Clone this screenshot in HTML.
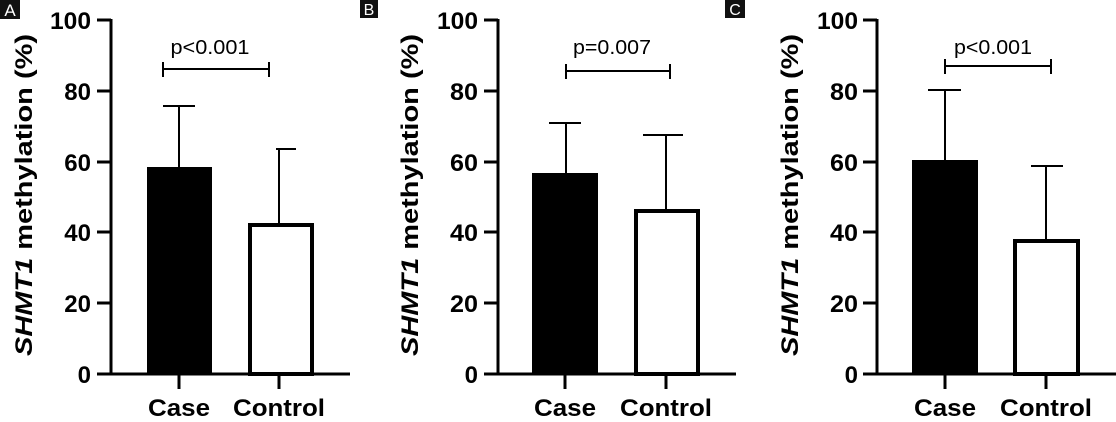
<!DOCTYPE html>
<html><head><style>body{margin:0;background:#fff}svg{display:block}</style></head>
<body>
<svg width="1116" height="422" viewBox="0 0 1116 422" xmlns="http://www.w3.org/2000/svg" font-family="Liberation Sans, Arial, sans-serif">
<!-- Panel A -->
<g>
<rect x="0" y="0" width="20" height="19" fill="#111"/><text x="10" y="16" fill="#fff" font-size="17" text-anchor="middle">A</text>
<text transform="translate(32,195) rotate(-90)" font-size="24" font-weight="bold" text-anchor="middle" textLength="322" lengthAdjust="spacingAndGlyphs"><tspan font-style="italic">SHMT1</tspan> methylation (%)</text>
<g font-size="24" font-weight="bold" text-anchor="end">
<text x="91" y="29" textLength="41" lengthAdjust="spacingAndGlyphs">100</text><text x="91" y="100">80</text><text x="91" y="171">60</text><text x="91" y="241">40</text><text x="91" y="312">20</text><text x="91" y="383">0</text>
</g>
<g stroke="#000" stroke-width="3" fill="none">
<path d="M111,19V374H350M97,20H111M97,91H111M97,162H111M97,232H111M97,303H111M97,374H111M179,374V389M279,374V389"/>
</g>
<rect x="147" y="167" width="65" height="207" fill="#000"/>
<rect x="250" y="225" width="62" height="149" fill="#fff" stroke="#000" stroke-width="4"/>
<g stroke="#000" stroke-width="2"><path d="M179,167V106M163,106H195M279,223V149M276,149H296M163,69H269M163,62V77M269,62V77"/></g>
<text x="210" y="54" font-size="20" text-anchor="middle" textLength="79" lengthAdjust="spacingAndGlyphs">p&lt;0.001</text>
<g font-size="24" font-weight="bold" text-anchor="middle"><text x="179" y="416" textLength="62" lengthAdjust="spacingAndGlyphs">Case</text><text x="279" y="416" textLength="92" lengthAdjust="spacingAndGlyphs">Control</text></g>
</g>
<!-- Panel B -->
<g>
<rect x="360" y="0" width="18" height="18" fill="#111"/><text x="369" y="15" fill="#fff" font-size="16" text-anchor="middle">B</text>
<text transform="translate(418,195) rotate(-90)" font-size="24" font-weight="bold" text-anchor="middle" textLength="322" lengthAdjust="spacingAndGlyphs"><tspan font-style="italic">SHMT1</tspan> methylation (%)</text>
<g font-size="24" font-weight="bold" text-anchor="end">
<text x="478" y="29" textLength="41" lengthAdjust="spacingAndGlyphs">100</text><text x="478" y="100" textLength="28" lengthAdjust="spacingAndGlyphs">80</text><text x="478" y="171" textLength="28" lengthAdjust="spacingAndGlyphs">60</text><text x="478" y="241" textLength="28" lengthAdjust="spacingAndGlyphs">40</text><text x="478" y="312" textLength="28" lengthAdjust="spacingAndGlyphs">20</text><text x="478" y="383">0</text>
</g>
<g stroke="#000" stroke-width="3" fill="none">
<path d="M498,19V374H736M484,20H498M484,91H498M484,162H498M484,232H498M484,303H498M484,374H498M565,374V389M666,374V389"/>
</g>
<rect x="532" y="173" width="66" height="201" fill="#000"/>
<rect x="636" y="211" width="62" height="163" fill="#fff" stroke="#000" stroke-width="4"/>
<g stroke="#000" stroke-width="2"><path d="M566,173V123M549,123H581M666,209V135M643,135H683M566,71H670M566,64V79M670,64V79"/></g>
<text x="612" y="54" font-size="20" text-anchor="middle" textLength="78" lengthAdjust="spacingAndGlyphs">p=0.007</text>
<g font-size="24" font-weight="bold" text-anchor="middle"><text x="565" y="416" textLength="62" lengthAdjust="spacingAndGlyphs">Case</text><text x="666" y="416" textLength="92" lengthAdjust="spacingAndGlyphs">Control</text></g>
</g>
<!-- Panel C -->
<g>
<rect x="725" y="0" width="20" height="18" fill="#111"/><text x="735" y="15" fill="#fff" font-size="16" text-anchor="middle">C</text>
<text transform="translate(798,195) rotate(-90)" font-size="24" font-weight="bold" text-anchor="middle" textLength="322" lengthAdjust="spacingAndGlyphs"><tspan font-style="italic">SHMT1</tspan> methylation (%)</text>
<g font-size="24" font-weight="bold" text-anchor="end">
<text x="858" y="29" textLength="41" lengthAdjust="spacingAndGlyphs">100</text><text x="858" y="100" textLength="28" lengthAdjust="spacingAndGlyphs">80</text><text x="858" y="171" textLength="28" lengthAdjust="spacingAndGlyphs">60</text><text x="858" y="241" textLength="28" lengthAdjust="spacingAndGlyphs">40</text><text x="858" y="312" textLength="28" lengthAdjust="spacingAndGlyphs">20</text><text x="858" y="383">0</text>
</g>
<g stroke="#000" stroke-width="3" fill="none">
<path d="M877,19V374H1116M863,20H877M863,91H877M863,162H877M863,232H877M863,303H877M863,374H877M945,374V389M1046,374V389"/>
</g>
<rect x="912" y="160" width="66" height="214" fill="#000"/>
<rect x="1015" y="241" width="63" height="133" fill="#fff" stroke="#000" stroke-width="4"/>
<g stroke="#000" stroke-width="2"><path d="M945,160V90M928,90H961M1046,239V166M1031,166H1063M945,66H1051M945,59V74M1051,59V74"/></g>
<text x="993" y="54" font-size="20" text-anchor="middle" textLength="78" lengthAdjust="spacingAndGlyphs">p&lt;0.001</text>
<g font-size="24" font-weight="bold" text-anchor="middle"><text x="945" y="416" textLength="62" lengthAdjust="spacingAndGlyphs">Case</text><text x="1046" y="416" textLength="92" lengthAdjust="spacingAndGlyphs">Control</text></g>
</g>
</svg>
</body></html>
